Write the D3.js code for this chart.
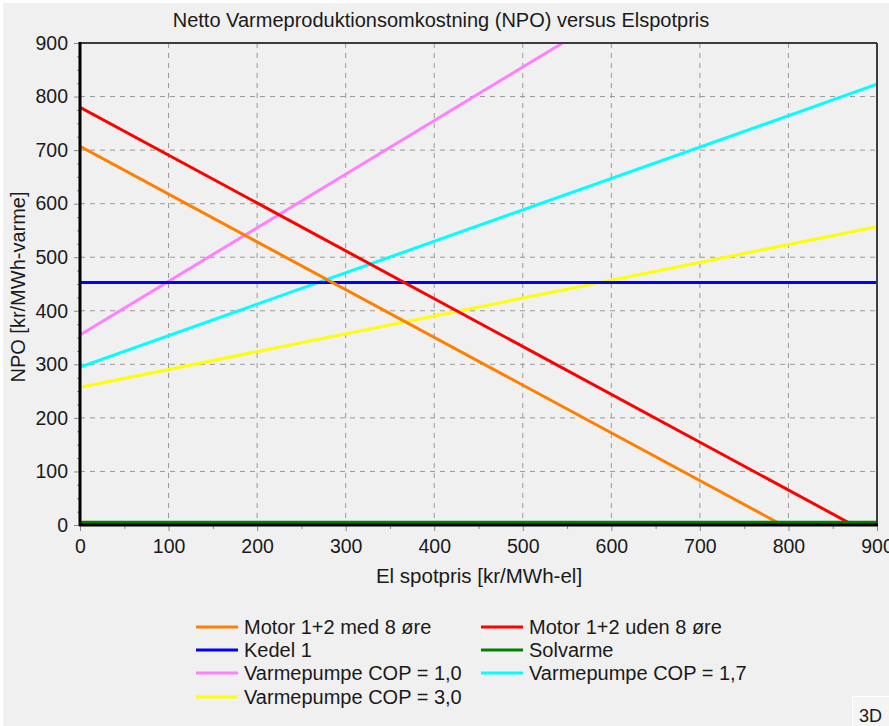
<!DOCTYPE html>
<html>
<head>
<meta charset="utf-8">
<script src="https://cdn.jsdelivr.net/npm/d3@7"></script>
<style>
  body { margin: 0; background: #ffffff; }
  text { font-family: "Liberation Sans", Arial, sans-serif; fill: #1a1a1a; }
</style>
</head>
<body>
<script>
// Data
// =================================
var chartTitle = "Netto Varmeproduktionsomkostning (NPO) versus Elspotpris";
var xTitle = "El spotpris [kr/MWh-el]";
var yTitle = "NPO [kr/MWh-varme]";

var xTicks = [0, 100, 200, 300, 400, 500, 600, 700, 800, 900];
var yTicks = [0, 100, 200, 300, 400, 500, 600, 700, 800, 900];

var seriesNames = [
  "Motor 1+2 med 8 øre", "Motor 1+2 uden 8 øre",
  "Kedel 1", "Solvarme",
  "Varmepumpe COP = 1,0", "Varmepumpe COP = 1,7",
  "Varmepumpe COP = 3,0"
];
var seriesColors = ["#ff8000", "#ff0000", "#0000ff", "#008000", "#ff80ff", "#00ffff", "#ffff00"];

// elspot (x) and NPO (y) points for each line
var motorMedX = [0, 793, 900];
var motorMedY = [707, 0, 0];
var motorUdenX = [0, 873, 900];
var motorUdenY = [780, 0, 0];
var kedelX = [0, 900];
var kedelY = [453, 453];
var solvarmeX = [0, 900];
var solvarmeY = [4, 4];
var cop10X = [0, 545];
var cop10Y = [355, 900];
var cop17X = [0, 900];
var cop17Y = [295, 823];
var cop30X = [0, 900];
var cop30Y = [257, 557];

var seriesX = [motorMedX, motorUdenX, kedelX, solvarmeX, cop10X, cop17X, cop30X];
var seriesY = [motorMedY, motorUdenY, kedelY, solvarmeY, cop10Y, cop17Y, cop30Y];

// Step 1: Set up our chart
//= ================================
var svgWidth = 889;
var svgHeight = 726;

var plot = { left: 80, top: 43, right: 877, bottom: 525 };

var svg = d3.select("body")
  .append("svg")
  .attr("width", svgWidth)
  .attr("height", svgHeight);

// grey window background
svg.append("rect")
  .attr("x", 3)
  .attr("y", 3)
  .attr("width", svgWidth - 3)
  .attr("height", svgHeight - 3)
  .attr("fill", "#f0f0f0");

var xScale = d3.scaleLinear().domain([0, 900]).range([plot.left, plot.right]);
var yScale = d3.scaleLinear().domain([0, 900]).range([plot.bottom, plot.top]);

// Step 2: grid lines
//= ================================
var gridGroup = svg.append("g");

gridGroup.selectAll(".vgrid")
  .data(xTicks.filter(d => d > 0 && d < 900))
  .enter()
  .append("line")
  .attr("x1", d => xScale(d))
  .attr("x2", d => xScale(d))
  .attr("y1", plot.top)
  .attr("y2", plot.bottom)
  .attr("stroke", "#999999")
  .attr("stroke-width", 1)
  .attr("stroke-dasharray", "5,5");

gridGroup.selectAll(".hgrid")
  .data(yTicks.filter(d => d > 0 && d < 900))
  .enter()
  .append("line")
  .attr("x1", plot.left)
  .attr("x2", plot.right)
  .attr("y1", d => yScale(d))
  .attr("y2", d => yScale(d))
  .attr("stroke", "#999999")
  .attr("stroke-width", 1)
  .attr("stroke-dasharray", "5,5");

// Step 3: axes
//= ================================
var bottomAxis = d3.axisBottom(xScale)
  .tickValues(xTicks)
  .tickSize(6)
  .tickPadding(8);

var leftAxis = d3.axisLeft(yScale)
  .tickValues(yTicks)
  .tickSize(6)
  .tickPadding(6);

var xAxis = svg.append("g")
  .attr("transform", `translate(0, ${plot.bottom})`)
  .call(bottomAxis);

var yAxis = svg.append("g")
  .attr("transform", `translate(${plot.left}, 0)`)
  .call(leftAxis);

// minor ticks
svg.append("g")
  .attr("transform", `translate(0, ${plot.bottom})`)
  .call(d3.axisBottom(xScale).tickValues(d3.range(50, 900, 100)).tickSize(4).tickFormat(""));

svg.append("g")
  .attr("transform", `translate(${plot.left}, 0)`)
  .call(d3.axisLeft(yScale).tickValues(d3.range(0, 901, 25).filter(d => d % 100 !== 0)).tickSize(3).tickFormat(""));

svg.selectAll(".domain").remove();
svg.selectAll(".tick line").attr("stroke", "#8a8a8a");
svg.selectAll(".tick text")
  .attr("font-size", "19.5px")
  .attr("fill", "#1a1a1a")
  .attr("font-family", "Liberation Sans, Arial, sans-serif");

// Step 4: lines
//= ================================
svg.append("clipPath")
  .attr("id", "plotClip")
  .append("rect")
  .attr("x", plot.left)
  .attr("y", plot.top)
  .attr("width", plot.right - plot.left)
  .attr("height", plot.bottom - plot.top);

var lineGen = d3.line()
  .x(d => xScale(d[0]))
  .y(d => yScale(d[1]));

var linesGroup = svg.append("g").attr("clip-path", "url(#plotClip)");

// draw in an order so that the green solvarme line sits on top at the bottom
var drawOrder = [4, 5, 6, 2, 0, 1, 3];
drawOrder.forEach(function(i) {
  var pts = seriesX[i].map((x, j) => [x, seriesY[i][j]]);
  linesGroup.append("path")
    .datum(pts)
    .attr("d", lineGen)
    .attr("fill", "none")
    .attr("stroke", seriesColors[i])
    .attr("stroke-width", i === 3 ? 4 : 3);
});

// frame: top and right dark grey, left and bottom black
svg.append("line")
  .attr("x1", plot.left).attr("x2", plot.right)
  .attr("y1", plot.top).attr("y2", plot.top)
  .attr("stroke", "#3c3c3c").attr("stroke-width", 2);
svg.append("line")
  .attr("x1", plot.right).attr("x2", plot.right)
  .attr("y1", plot.top).attr("y2", plot.bottom)
  .attr("stroke", "#3c3c3c").attr("stroke-width", 2);
svg.append("line")
  .attr("x1", plot.left).attr("x2", plot.left)
  .attr("y1", plot.top - 1).attr("y2", plot.bottom + 1)
  .attr("stroke", "#000000").attr("stroke-width", 3);
svg.append("line")
  .attr("x1", plot.left - 1).attr("x2", plot.right + 1)
  .attr("y1", plot.bottom).attr("y2", plot.bottom)
  .attr("stroke", "#000000").attr("stroke-width", 3);

// Step 5: titles
//= ================================
svg.append("text")
  .attr("x", 441)
  .attr("y", 27)
  .attr("text-anchor", "middle")
  .attr("font-size", "20px")
  .text(chartTitle);

svg.append("text")
  .attr("x", 479)
  .attr("y", 583)
  .attr("text-anchor", "middle")
  .attr("font-size", "20.5px")
  .text(xTitle);

svg.append("text")
  .attr("transform", "rotate(-90)")
  .attr("x", -287)
  .attr("y", 25)
  .attr("text-anchor", "middle")
  .attr("font-size", "20px")
  .text(yTitle);

// Step 6: legend
//= ================================
var legendCols = [196, 481];
var legendRowY = [627, 650, 673, 697];

var legend = svg.append("g");
seriesNames.forEach(function(name, i) {
  var lx = legendCols[i % 2];
  var ly = legendRowY[Math.floor(i / 2)];
  legend.append("line")
    .attr("x1", lx)
    .attr("x2", lx + 42)
    .attr("y1", ly)
    .attr("y2", ly)
    .attr("stroke", seriesColors[i])
    .attr("stroke-width", 3);
  legend.append("text")
    .attr("x", lx + 48)
    .attr("y", ly + 7)
    .attr("font-size", "20px")
    .text(name);
});

// "3D" button in the corner
svg.append("rect")
  .attr("x", 852.5)
  .attr("y", 696.5)
  .attr("width", 40)
  .attr("height", 34)
  .attr("fill", "#f4f4f4")
  .attr("stroke", "#ffffff");
svg.append("text")
  .attr("x", 859)
  .attr("y", 722)
  .attr("font-size", "18px")
  .text("3D");
</script>
</body>
</html>
